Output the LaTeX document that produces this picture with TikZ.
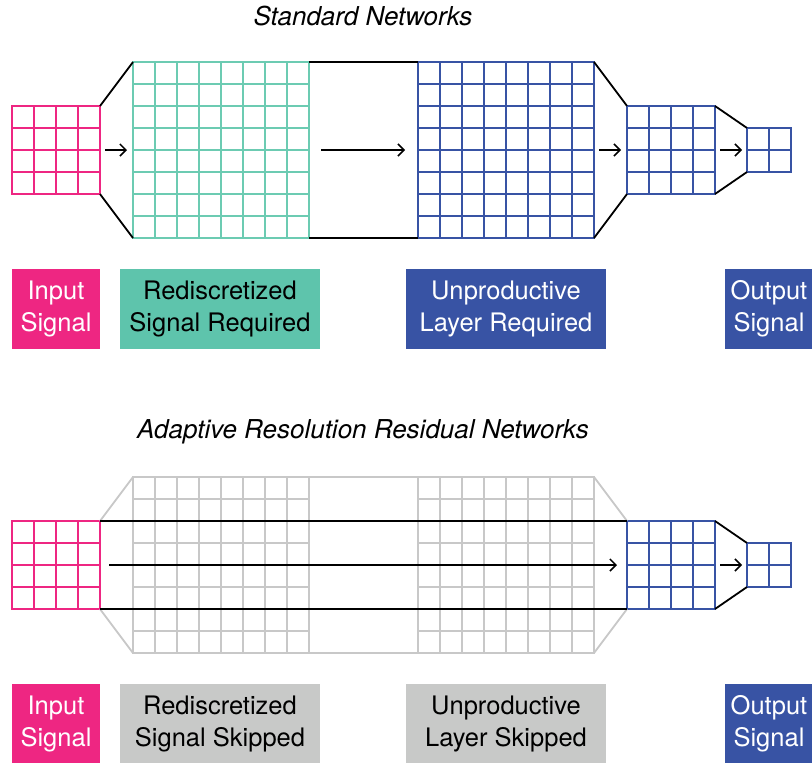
\documentclass[tikz,border=0pt]{standalone}
\usepackage{fontspec}
\setmainfont{TeX Gyre Heros}
\usetikzlibrary{arrows.meta}
\definecolor{pinkc}{HTML}{EE2682}
\definecolor{tealbox}{HTML}{5EC4AC}
\definecolor{tealgrid}{HTML}{6CCBB2}
\definecolor{bluec}{HTML}{3853A4}
\definecolor{grayc}{HTML}{C8C8C8}
\definecolor{graybox}{HTML}{C8C9C8}
\newcommand{\cellgrid}[6]{%
  \node[gridnode, draw=#5, minimum size=#4*22pt] (#1) at (#2,#3) {};
  \foreach \k in {#6} {
    \draw[#5, line width=1.8pt] (#2+\k*22,#3) -- (#2+\k*22,#3+#4*22);
    \draw[#5, line width=1.8pt] (#2,#3+\k*22) -- (#2+#4*22,#3+\k*22);
  }
}
\begin{document}
\begin{tikzpicture}[x=1pt,y=-1pt,
  gridnode/.style={rectangle, inner sep=0pt, outer sep=0pt, anchor=north west, line width=1.8pt},
  link/.style={black, line width=1.8pt},
  glink/.style={grayc, line width=1.8pt},
  arr/.style={black, line width=1.5pt, -{Straight Barb[length=6pt,width=12pt]}},
  lab/.style={rectangle, inner sep=0pt, minimum height=80pt, align=center, font=\fontsize{25.5}{32}\selectfont},
  ttl/.style={font=\fontsize{26}{30}\selectfont\itshape}]
\useasboundingbox (0,0) rectangle (812,763);
\fill[white] (0,0) rectangle (812,763);

% ---------- Standard Networks ----------
\node[ttl] (t1) at (363,16) {Standard Networks};
\cellgrid{in1}{12}{106}{4}{pinkc}{1,2,3}
\cellgrid{red1}{133}{62}{8}{tealgrid}{1,...,7}
\cellgrid{big1}{418}{62}{8}{bluec}{1,...,7}
\cellgrid{med1}{627}{106}{4}{bluec}{1,2,3}
\cellgrid{sm1}{747}{128}{2}{bluec}{1}
\draw[link] (in1.north east) -- (red1.north west);
\draw[link] (in1.south east) -- (red1.south west);
\draw[link] (red1.north east) -- (big1.north west);
\draw[link] (red1.south east) -- (big1.south west);
\draw[link] (big1.north east) -- (med1.north west);
\draw[link] (big1.south east) -- (med1.south west);
\draw[link] (med1.north east) -- (sm1.north west);
\draw[link] (med1.south east) -- (sm1.south west);
\draw[arr] ([xshift=5pt]in1.east) -- ([xshift=-6pt]red1.west);
\draw[arr] ([xshift=12pt]red1.east) -- ([xshift=-13pt]big1.west);
\draw[arr] ([xshift=5pt]big1.east) -- ([xshift=-6pt]med1.west);
\draw[arr] ([xshift=5pt]med1.east) -- ([xshift=-5pt]sm1.west);

\node[lab, fill=pinkc, text=white, minimum width=88pt] (l1a) at (56,309) {Input\\Signal};
\node[lab, fill=tealbox, text=black, minimum width=200pt] (l1b) at (220,309) {Rediscretized\\Signal Required};
\node[lab, fill=bluec, text=white, minimum width=200pt] (l1c) at (506,309) {Unproductive\\Layer Required};
\node[lab, fill=bluec, text=white, minimum width=88pt] (l1d) at (769,309) {Output\\Signal};

% ---------- Adaptive Resolution Residual Networks ----------
\node[ttl] (t2) at (363,432) {Adaptive Resolution Residual Networks};
\cellgrid{red2}{133}{477}{8}{grayc}{1,...,7}
\cellgrid{big2}{418}{477}{8}{grayc}{1,...,7}
\cellgrid{in2}{12}{521}{4}{pinkc}{1,2,3}
\cellgrid{med2}{627}{521}{4}{bluec}{1,2,3}
\cellgrid{sm2}{747}{543}{2}{bluec}{1}
\draw[glink] (in2.north east) -- (red2.north west);
\draw[glink] (in2.south east) -- (red2.south west);
\draw[glink] (red2.north east) -- (big2.north west);
\draw[glink] (red2.south east) -- (big2.south west);
\draw[glink] (big2.north east) -- (med2.north west);
\draw[glink] (big2.south east) -- (med2.south west);
\draw[link] (in2.north east) -- (med2.north west);
\draw[link] (in2.south east) -- (med2.south west);
\draw[link] (med2.north east) -- (sm2.north west);
\draw[link] (med2.south east) -- (sm2.south west);
\draw[arr] ([xshift=9pt]in2.east) -- ([xshift=-10pt]med2.west);
\draw[arr] ([xshift=5pt]med2.east) -- ([xshift=-5pt]sm2.west);

\node[lab, fill=pinkc, text=white, minimum width=88pt] (l2a) at (56,724) {Input\\Signal};
\node[lab, fill=graybox, text=black, minimum width=200pt] (l2b) at (220,724) {Rediscretized\\Signal Skipped};
\node[lab, fill=graybox, text=black, minimum width=200pt] (l2c) at (506,724) {Unproductive\\Layer Skipped};
\node[lab, fill=bluec, text=white, minimum width=88pt] (l2d) at (769,724) {Output\\Signal};
\end{tikzpicture}
\end{document}
